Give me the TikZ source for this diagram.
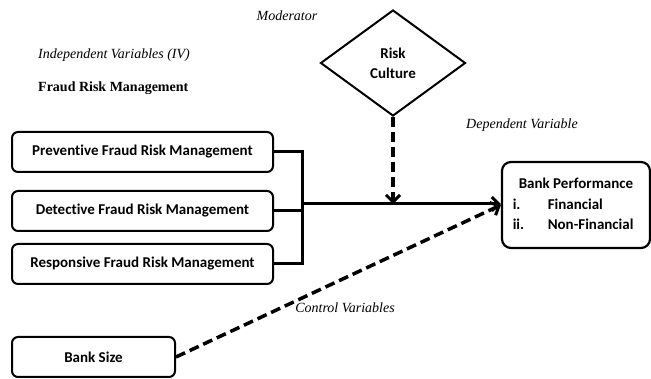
\documentclass[tikz,border=0pt]{standalone}
\usepackage{fontspec}
\setmainfont{Liberation Serif}
\newfontfamily\calib[Ligatures=NoCommon]{Carlito}
\usetikzlibrary{positioning,arrows.meta,shapes.geometric}

\begin{document}
\begin{tikzpicture}[
  x=1pt, y=-1pt,
  node distance=17pt and 17pt,
  faktor/.style={draw, rounded corners=6pt, line width=2pt, align=center, minimum width=261pt, minimum height=40pt, inner sep=0pt, font=\calib\bfseries\fontsize{15}{18}\selectfont},
  kinerja/.style={draw, rounded corners=9pt, line width=2.2pt, align=center, minimum width=148pt, minimum height=86pt, inner sep=0pt, font=\calib\bfseries\fontsize{15}{20.5}\selectfont},
  budaya/.style={diamond, draw, line width=2pt, align=center, minimum width=145pt, minimum height=106pt, inner sep=0pt, font=\calib\bfseries\fontsize{15}{20}\selectfont},
  ket/.style={font=\itshape\fontsize{14}{16}\selectfont, inner sep=0pt},
  garis/.style={line width=3pt},
  panah/.style={line width=3pt, -{Straight Barb[length=7pt,width=14pt,line width=3pt]}},
  putus/.style={line width=3.5pt, dash pattern=on 10pt off 5pt, -{Straight Barb[length=7pt,width=14pt,line width=3pt]}}
]
\useasboundingbox (0,0) rectangle (651,379);
\node[ket] (moder) at (287,16) {Moderator};
\node[budaya] (risk) at (393,63) {Risk\\Culture};
\node[ket, anchor=west] (iv) at (38,55) {Independent Variables (IV)};
\node[font=\bfseries\fontsize{14}{16}\selectfont, inner sep=0pt, anchor=west] (frm) at (38,88) {Fraud Risk Management};
\node[ket] (dv) at (522,125) {Dependent Variable};
\node[faktor] (prev) at (142.5,152) {Preventive Fraud Risk Management};
\node[faktor, below=17pt of prev] (det) {Detective Fraud Risk Management};
\node[faktor, below=11pt of det] (resp) {Responsive Fraud Risk Management};
\node[faktor, minimum width=163pt] (size) at (93.5,357) {Bank Size};
\node[kinerja] (perf) at (576,205) {\begin{tabular}{@{}p{35pt}@{}l@{}}
\multicolumn{2}{c}{Bank Performance}\\
i. & Financial\\
ii. & Non-Financial
\end{tabular}};
\node[ket] (cv) at (345,308) {Control Variables};
\coordinate (join) at (302,204);
% bracket of the three IV boxes
\draw[garis] (prev.east) -| (join) |- (resp.east);
\draw[garis] (det.east) -- (det.east -| join);
\draw[panah] (join) -- (join -| perf.west);
% moderator and control
\draw[putus] (risk.south) -- (risk.south |- join);
\draw[putus] (size.east) -- (perf.west);
\end{tikzpicture}
\end{document}
